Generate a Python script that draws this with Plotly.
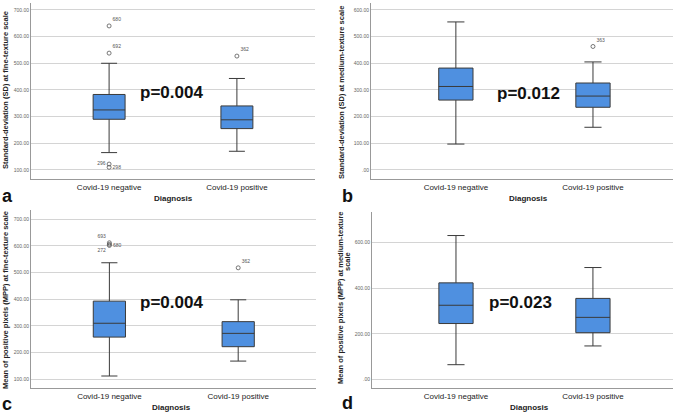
import plotly.graph_objects as go
from plotly.subplots import make_subplots

groups = ["Covid-19 negative", "Covid-19 positive"]

# five-number summaries per panel: [negative, positive]
a_low = [165, 170]; a_q1 = [290, 255]; a_med = [325, 288]; a_q3 = [383, 340]; a_high = [500, 443]
b_low = [97, 160]; b_q1 = [262, 235]; b_med = [313, 277]; b_q3 = [382, 326]; b_high = [555, 405]
c_low = [112, 168]; c_q1 = [258, 222]; c_med = [310, 272]; c_q3 = [393, 316]; c_high = [537, 398]
d_low = [65, 147]; d_q1 = [245, 205]; d_med = [325, 272]; d_q3 = [423, 355]; d_high = [630, 490]

# outliers: group index, value, case label
a_out_grp = [0, 0, 0, 0, 1]; a_out_val = [640, 538, 122, 110, 527]; a_out_lab = ["680", "692", "296", "298", "362"]
b_out_grp = [1]; b_out_val = [463]; b_out_lab = ["363"]
c_out_grp = [0, 0, 0, 1]; c_out_val = [612, 606, 602, 518]; c_out_lab = ["693", "272", "680", "362"]
d_out_grp = []; d_out_val = []; d_out_lab = []

p_values = ["p=0.004", "p=0.012", "p=0.004", "p=0.023"]
panel_letters = ["a", "b", "c", "d"]
x_title = "Diagnosis"
y_titles = ["Standard-deviation (SD) at fine-texture scale",
            "Standard-deviation (SD) at medium-texture scale",
            "Mean of positive pixels (MPP) at fine-texture scale",
            "Mean of positive pixels (MPP) at medium-texture"]
d_title_2 = "scale"
a_ticks = [100, 200, 300, 400, 500, 600, 700]
b_ticks = [0, 100, 200, 300, 400, 500, 600]
c_ticks = [100, 200, 300, 400, 500, 600, 700]
d_ticks = [0, 200, 400, 600]

W, H = 678, 413
fill = "#4f90e0"
edge = "#3a3a3a"
FONT = "Arial"

panels = [
    (a_low, a_q1, a_med, a_q3, a_high, a_out_grp, a_out_val, a_out_lab, a_ticks),
    (b_low, b_q1, b_med, b_q3, b_high, b_out_grp, b_out_val, b_out_lab, b_ticks),
    (c_low, c_q1, c_med, c_q3, c_high, c_out_grp, c_out_val, c_out_lab, c_ticks),
    (d_low, d_q1, d_med, d_q3, d_high, d_out_grp, d_out_val, d_out_lab, d_ticks),
]

# outlier label placement per panel
label_pos = [
    ["top right", "top right", "middle left", "middle right", "top right"],
    ["top right"],
    ["top left", "bottom left", "middle right", "top right"],
    [],
]

# pixel geometry: (x0, x1, ytop, ybottom, y range, x fraction of category 0, of category 1)
geom = [
    (31, 315, 3, 179, [66, 726], 0.275, 0.725),
    (371, 673, 3, 179, [-34, 626], 0.281, 0.735),
    (31, 316, 210, 388, [67, 735], 0.275, 0.727),
    (372, 673, 212, 388, [-37, 733], 0.279, 0.734),
]

fig = make_subplots(rows=2, cols=2)

for i, (lo, q1, med, q3, hi, og, ov, ol, ticks) in enumerate(panels):
    r, c = i // 2 + 1, i % 2 + 1
    fig.add_trace(go.Box(
        x=[0, 1], lowerfence=lo, q1=q1, median=med, q3=q3, upperfence=hi,
        fillcolor=fill, line=dict(color=edge, width=1), width=0.25,
        whiskerwidth=0.5, boxpoints=False, showlegend=False, hoverinfo="skip"),
        row=r, col=c)
    if ov:
        fig.add_trace(go.Scatter(
            x=og, y=ov, mode="markers+text", text=ol, textposition=label_pos[i],
            marker=dict(symbol="circle-open", size=4, color="#555", line=dict(width=0.8)),
            textfont=dict(size=5, color="#555", family=FONT),
            showlegend=False, hoverinfo="skip"), row=r, col=c)

    x0, x1, yt, yb, yr, f0, f1 = geom[i]
    span = 1 / (f1 - f0)
    xr = [-f0 * span, (1 - f0) * span]
    ax = "" if i == 0 else str(i + 1)
    fig.layout["xaxis" + ax].update(
        domain=[x0 / W, x1 / W], range=xr, tickvals=[0, 1], ticktext=groups,
        showline=True, linecolor="#999", linewidth=1, showgrid=False, zeroline=False,
        ticks="", automargin=False, tickfont=dict(size=8, color="#222", family=FONT))
    fig.layout["yaxis" + ax].update(
        domain=[1 - yb / H, 1 - yt / H], range=yr, tickvals=ticks,
        ticktext=[(".00" if t == 0 else f"{t:.2f}") for t in ticks],
        showline=True, linecolor="#999", linewidth=1, showgrid=True, gridcolor="#d4d4d4",
        gridwidth=1, zeroline=False, ticks="", automargin=False,
        tickfont=dict(size=5, color="#666", family=FONT))


def note(x, y, text, size, bold=True, angle=0, color="#111"):
    fig.add_annotation(x=x / W, y=1 - y / H, xref="paper", yref="paper",
                       xanchor="center", yanchor="middle", textangle=angle,
                       text=("<b>" + text + "</b>") if bold else text, showarrow=False,
                       font=dict(size=size, color=color, family=FONT))


p_pos = [(171, 92), (528, 93), (171, 302), (520, 302)]
letter_pos = [(7, 196), (347, 196), (7, 404), (347, 403)]
xt_pos = [(173, 198), (528, 198), (171, 407), (529, 407)]
yt_pos = [(5, 90), (341, 93), (5, 300), (340, 298)]
for i in range(4):
    note(*p_pos[i], p_values[i], 17)
    note(*letter_pos[i], panel_letters[i], 18)
    note(*xt_pos[i], x_title, 8, color="#222")
    note(*yt_pos[i], y_titles[i], 7.5, angle=-90, color="#222")
note(347, 262, d_title_2, 7.5, angle=-90, color="#222")

fig.update_layout(width=W, height=H, margin=dict(l=0, r=0, t=0, b=0),
                  plot_bgcolor="white", paper_bgcolor="white")
# drop the browser's default 8px page margin so the figure sits at the window corner
fig.write_html("out.html", config={"displayModeBar": False},
               post_script="document.body.style.margin='0';")
